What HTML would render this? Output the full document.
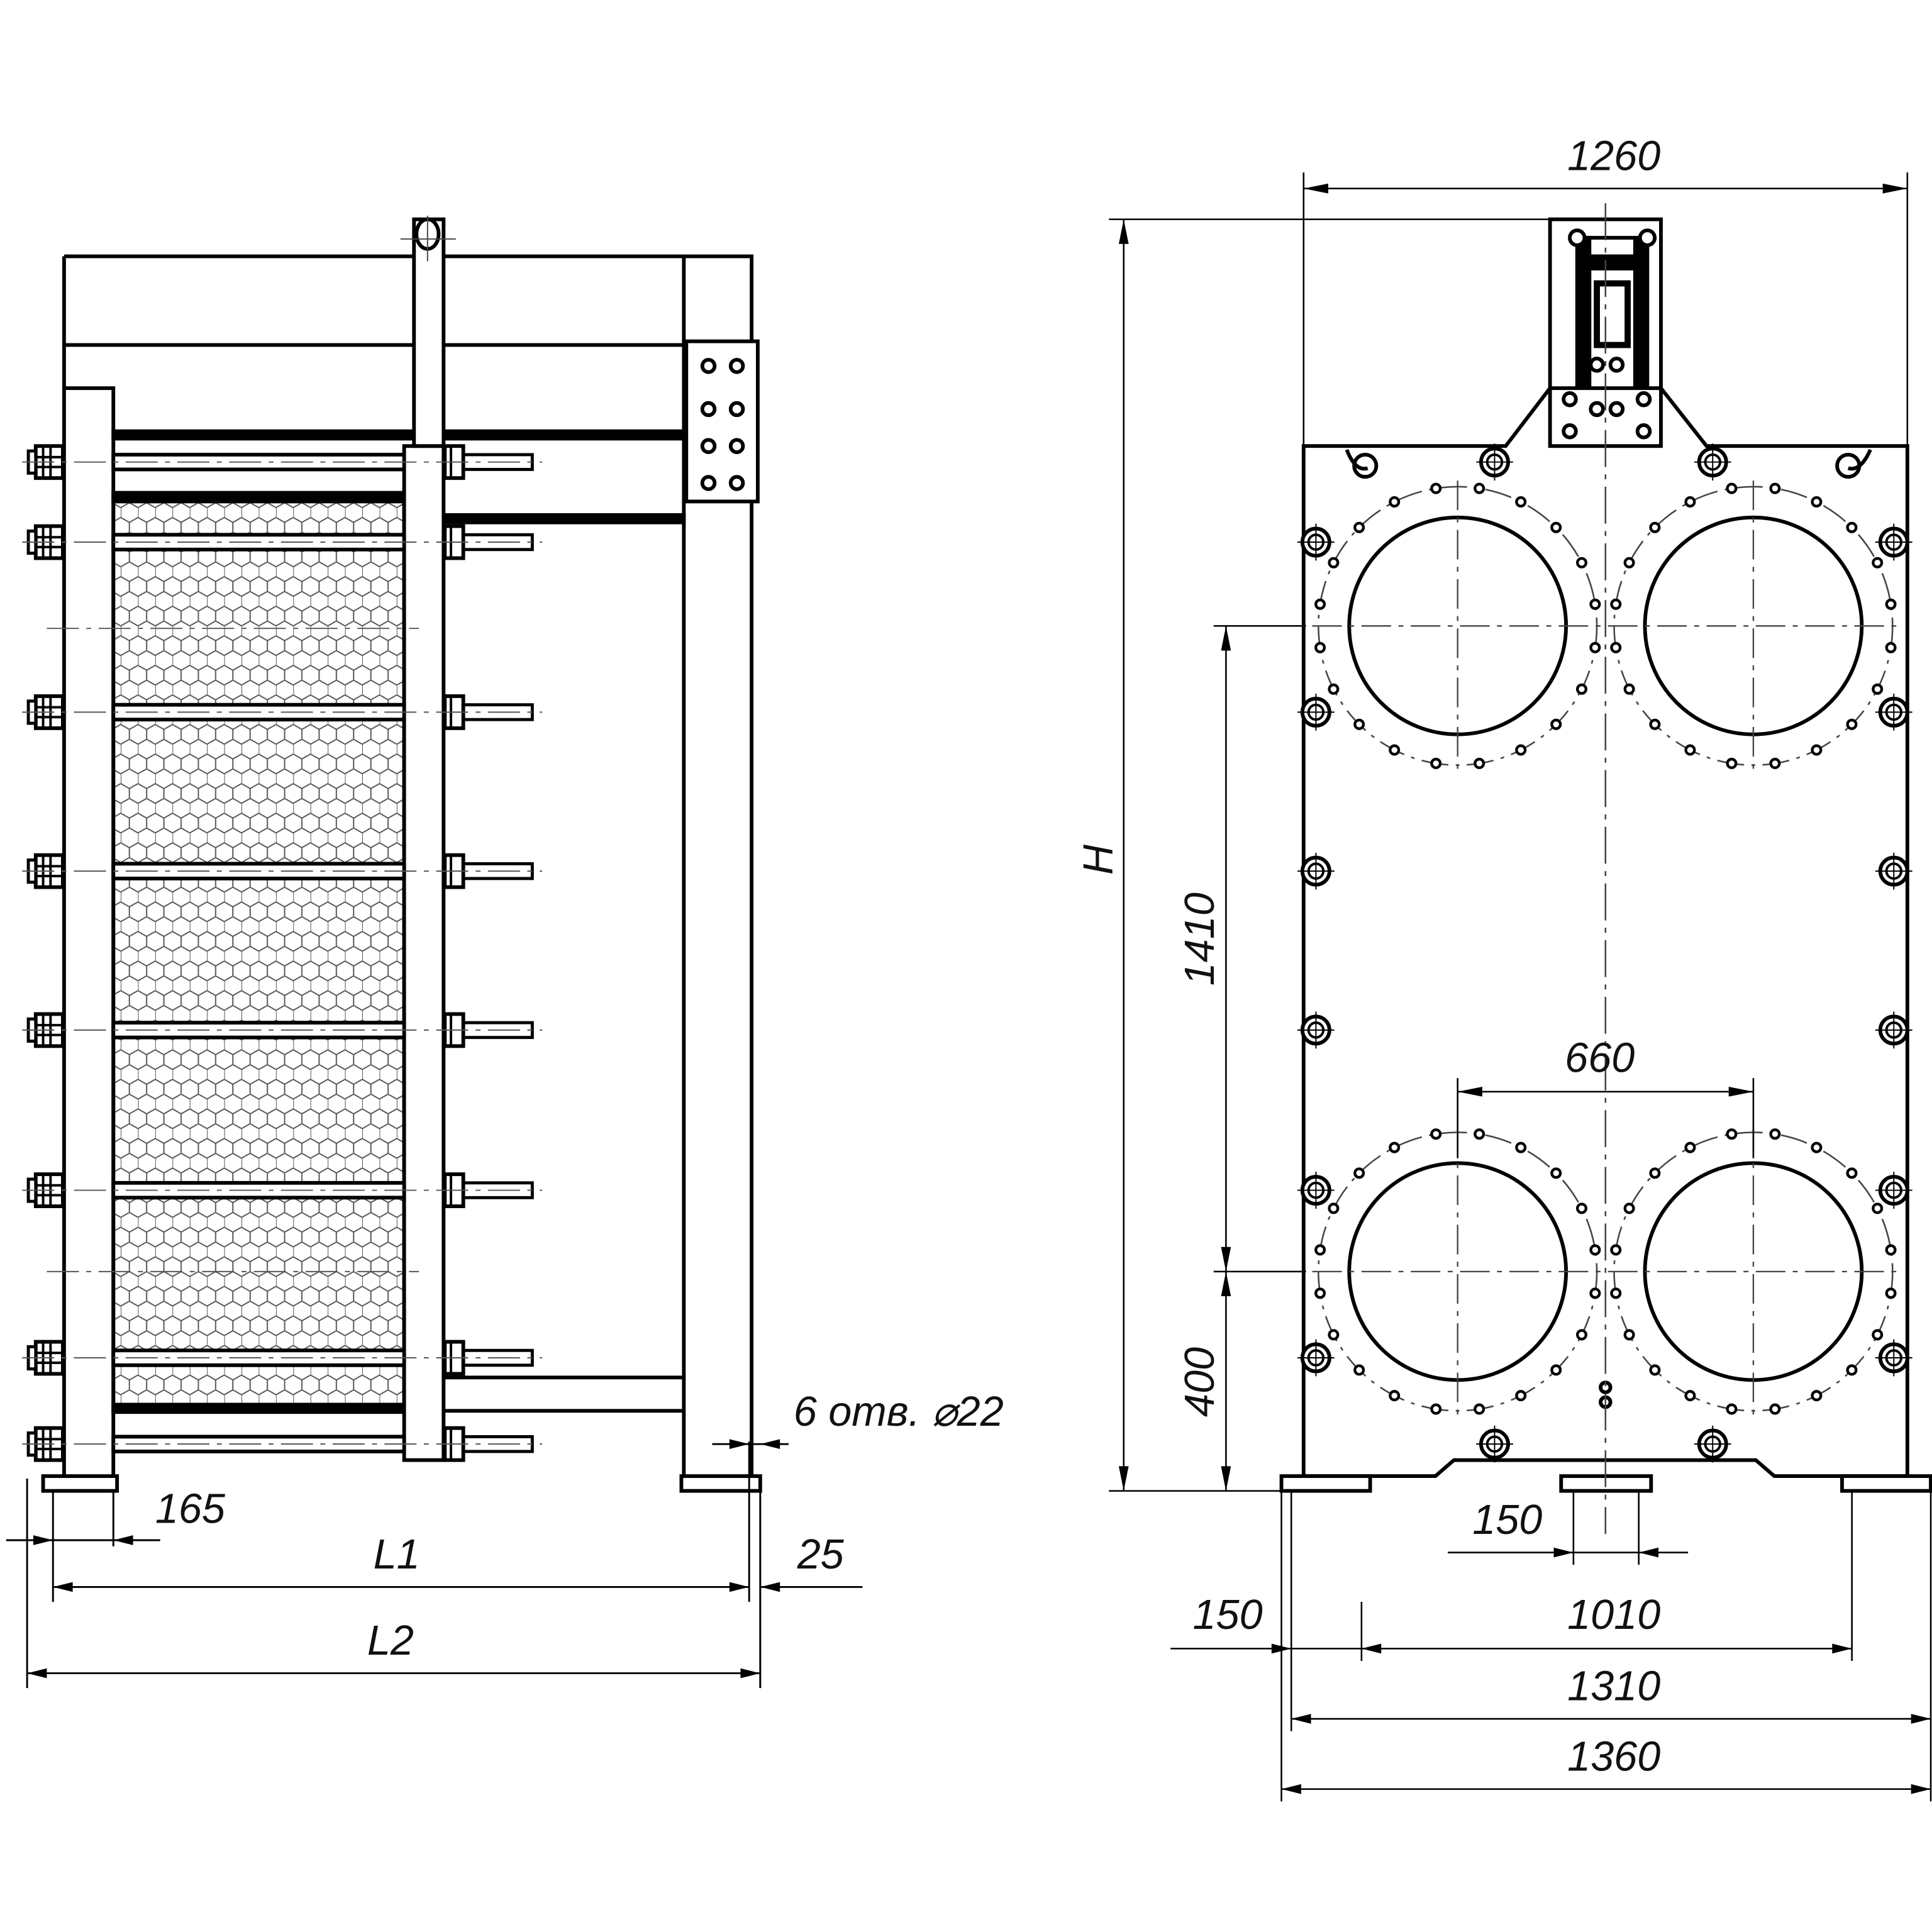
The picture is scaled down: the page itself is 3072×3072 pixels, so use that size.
<!DOCTYPE html>
<html><head><meta charset="utf-8"><style>
html,body{margin:0;padding:0;background:#fff}
svg{display:block}
text{font-family:"Liberation Sans",sans-serif;font-style:italic;font-size:34px;fill:#111}
</style></head><body>
<svg width="3072" height="3072" viewBox="0 0 1568 1568" xmlns="http://www.w3.org/2000/svg">
<defs>
<pattern id="hx" width="14" height="24" patternUnits="userSpaceOnUse">
<path d="M0 4L7 0L14 4M0 4V12L7 16L14 12M7 16V24" fill="none" stroke="#555" stroke-width="1"/>
</pattern>
<g id="fl">
<circle r="113" fill="none" stroke="#444" stroke-width="1.3" stroke-dasharray="22 6 3 6"/>
<g fill="#fff" stroke="#000" stroke-width="2.2">
<circle cx="17.6" cy="111.6" r="3.5"/><circle cx="-17.6" cy="111.6" r="3.5"/><circle cx="17.6" cy="-111.6" r="3.5"/><circle cx="-17.6" cy="-111.6" r="3.5"/>
<circle cx="51.3" cy="100.7" r="3.5"/><circle cx="-51.3" cy="100.7" r="3.5"/><circle cx="51.3" cy="-100.7" r="3.5"/><circle cx="-51.3" cy="-100.7" r="3.5"/>
<circle cx="79.9" cy="79.9" r="3.5"/><circle cx="-79.9" cy="79.9" r="3.5"/><circle cx="79.9" cy="-79.9" r="3.5"/><circle cx="-79.9" cy="-79.9" r="3.5"/>
<circle cx="100.7" cy="51.3" r="3.5"/><circle cx="-100.7" cy="51.3" r="3.5"/><circle cx="100.7" cy="-51.3" r="3.5"/><circle cx="-100.7" cy="-51.3" r="3.5"/>
<circle cx="111.6" cy="17.6" r="3.5"/><circle cx="-111.6" cy="17.6" r="3.5"/><circle cx="111.6" cy="-17.6" r="3.5"/><circle cx="-111.6" cy="-17.6" r="3.5"/>
</g>
<circle r="88" fill="none" stroke="#000" stroke-width="3"/>
<path d="M-118 0H118M0 -118V118" stroke="#444" stroke-width="1.2" stroke-dasharray="24 6 4 6"/>
</g>
<g id="bt"><circle r="11" fill="#fff" stroke="#000" stroke-width="3"/><circle r="6" fill="none" stroke="#000" stroke-width="2"/><path d="M-15 0H15M0 -15V15" stroke="#000" stroke-width="1"/></g>
<g id="rod">
<rect x="92" y="-6" width="236" height="12" fill="#fff" stroke="#000" stroke-width="3"/>
<rect x="360" y="-6" width="72" height="12" fill="#fff" stroke="#000" stroke-width="2.5"/>
<rect x="29" y="-13" width="22" height="26" fill="#fff" stroke="#000" stroke-width="3"/>
<path d="M35 -13V13M41 -13V13M29 -4H51M29 4H51" stroke="#000" stroke-width="2"/>
<rect x="23" y="-9" width="6" height="18" fill="#fff" stroke="#000" stroke-width="2.5"/>
<rect x="361" y="-13" width="15" height="26" fill="#fff" stroke="#000" stroke-width="3"/>
<path d="M366 -13V13" stroke="#000" stroke-width="2"/>
<path d="M18 0H440" stroke="#555" stroke-width="1" stroke-dasharray="26 6 4 6"/>
</g>
</defs>

<!-- LEFT VIEW -->
<g fill="none" stroke="#000" stroke-width="3">
<path d="M52 208H382M360 208H610V1200H555V208M52 208V1200M52 280H336M360 280H555"/>
<path d="M52 315H92V1200M92 352H336M360 352H555"/>
<rect x="92" y="350" width="244" height="6" fill="#000"/>
<rect x="360" y="350" width="195" height="6" fill="#000"/>
<rect x="360" y="418" width="195" height="6" fill="#000"/>
<path d="M360 1118H555M360 1145H555M92 1140H328M92 1145H328"/>
<rect x="92" y="400" width="236" height="745" fill="url(#hx)" stroke="#000" stroke-width="3"/>
<rect x="92" y="400" width="236" height="7" fill="#000"/>
<rect x="92" y="1140" width="236" height="6" fill="#000"/>
<rect x="328" y="362" width="32" height="823" fill="#fff"/>
<rect x="336" y="178" width="24" height="184" fill="#fff"/>
<ellipse cx="347" cy="190" rx="9" ry="12"/>
<path d="M52 1200H92M555 1200H610"/>
<rect x="35" y="1198" width="60" height="12" fill="#fff"/>
<rect x="553" y="1198" width="64" height="12" fill="#fff"/>
<rect x="557" y="277" width="58" height="130" fill="#fff"/>
</g>
<path d="M325 194H370M347 175V212" stroke="#444" stroke-width="1"/>
<g fill="#fff" stroke="#000" stroke-width="3">
<circle cx="575" cy="297" r="5"/><circle cx="598" cy="297" r="5"/>
<circle cx="575" cy="332" r="5"/><circle cx="598" cy="332" r="5"/>
<circle cx="575" cy="362" r="5"/><circle cx="598" cy="362" r="5"/>
<circle cx="575" cy="392" r="5"/><circle cx="598" cy="392" r="5"/>
</g>
<use href="#rod" y="375"/><use href="#rod" y="440"/><use href="#rod" y="578"/><use href="#rod" y="707"/>
<use href="#rod" y="836"/><use href="#rod" y="966"/><use href="#rod" y="1102"/><use href="#rod" y="1172"/>
<path d="M38 510H340M38 1032H340" stroke="#555" stroke-width="1" stroke-dasharray="26 6 4 6"/>

<!-- left dims -->
<g stroke="#000" stroke-width="1.5" fill="none">
<path d="M22 1200V1370M43 1210V1300M92 1210V1255M608 1170V1300M617 1210V1370"/>
<path d="M5 1250H130M43 1288H608M617 1288H700M22 1358H617M578 1172H640"/>
</g>
<g fill="#000">
<path d="M43 1250l-16-4v8zM92 1250l16-4v8z"/>
<path d="M43 1288l16-4v8zM608 1288l-16-4v8zM617 1288l16-4v8z"/>
<path d="M22 1358l16-4v8zM617 1358l-16-4v8z"/>
<path d="M608 1172l-16-4v8zM617 1172l16-4v8z"/>
</g>
<text x="126" y="1236">165</text>
<text x="303" y="1273">L1</text>
<text x="647" y="1273">25</text>
<text x="298" y="1343">L2</text>
<text x="644" y="1157">6 отв. ⌀22</text>

<!-- RIGHT VIEW -->
<g fill="none" stroke="#000" stroke-width="3">
<path d="M1058 1198V362H1222L1258 315M1348 315L1385 362H1548V1198H1440L1425 1185H1180L1165 1198H1058"/>
<rect x="1258" y="178" width="90" height="184" fill="#fff"/>
<path d="M1258 315H1348"/>
<rect x="1280" y="193" width="10" height="120" fill="#000"/>
<rect x="1327" y="193" width="10" height="120" fill="#000"/>
<rect x="1290" y="208" width="37" height="10" fill="#000"/>
<rect x="1296" y="230" width="25" height="50" stroke-width="5"/>
<path d="M1274 193H1342"/>
<path d="M1093 365Q1100 383 1110 380M1518 365Q1510 383 1500 380"/>
<circle cx="1108" cy="378" r="9"/><circle cx="1500" cy="378" r="9"/>
<rect x="1040" y="1198" width="72" height="12" fill="#fff"/>
<rect x="1267" y="1198" width="73" height="12" fill="#fff"/>
<rect x="1495" y="1198" width="72" height="12" fill="#fff"/>
</g>
<g fill="#fff" stroke="#000" stroke-width="3">
<circle cx="1280" cy="193" r="6"/><circle cx="1337" cy="193" r="6"/>
<circle cx="1296" cy="296" r="5"/><circle cx="1312" cy="296" r="5"/>
<circle cx="1274" cy="324" r="5"/><circle cx="1296" cy="332" r="5"/><circle cx="1312" cy="332" r="5"/><circle cx="1334" cy="324" r="5"/>
<circle cx="1274" cy="350" r="5"/><circle cx="1334" cy="350" r="5"/>
<circle cx="1303" cy="1126" r="4"/><circle cx="1303" cy="1138" r="4"/>
</g>
<path d="M1303 165V1245" stroke="#444" stroke-width="1.3" stroke-dasharray="30 6 4 6"/>
<use href="#fl" x="1183" y="508"/><use href="#fl" x="1423" y="508"/>
<use href="#fl" x="1183" y="1032"/><use href="#fl" x="1423" y="1032"/>
<use href="#bt" x="1213" y="375"/><use href="#bt" x="1390" y="375"/>
<use href="#bt" x="1213" y="1172"/><use href="#bt" x="1390" y="1172"/>
<use href="#bt" x="1068" y="440"/><use href="#bt" x="1537" y="440"/>
<use href="#bt" x="1068" y="578"/><use href="#bt" x="1537" y="578"/>
<use href="#bt" x="1068" y="707"/><use href="#bt" x="1537" y="707"/>
<use href="#bt" x="1068" y="836"/><use href="#bt" x="1537" y="836"/>
<use href="#bt" x="1068" y="966"/><use href="#bt" x="1537" y="966"/>
<use href="#bt" x="1068" y="1102"/><use href="#bt" x="1537" y="1102"/>

<!-- right dims -->
<g stroke="#000" stroke-width="1.3" fill="none">
<path d="M1058 140V362M1548 140V362M1058 153H1548"/>
<path d="M900 178H1258M900 1210H1040M912 178V1210"/>
<path d="M985 508H1060M985 1032H1060M995 508V1210"/>
<path d="M1183 875V940M1423 875V940M1183 886H1423"/>
<path d="M1277 1210V1270M1330 1210V1270M1175 1260H1370"/>
<path d="M1048 1210V1405M1105 1300V1348M1503 1210V1348M1567 1210V1462M1040 1210V1462"/>
<path d="M950 1338H1503M1048 1395H1567M1040 1452H1567"/>
</g>
<g fill="#000">
<path d="M1058 153l20-4v8zM1548 153l-20-4v8z"/>
<path d="M912 178l-4 20h8zM912 1210l-4-20h8z"/>
<path d="M995 508l-4 20h8zM995 1032l-4-20h8zM995 1032l-4 20h8zM995 1210l-4-20h8z"/>
<path d="M1183 886l20-4v8zM1423 886l-20-4v8z"/>
<path d="M1277 1260l-16-4v8zM1330 1260l16-4v8z"/>
<path d="M1048 1338l-16-4v8zM1105 1338l16-4v8zM1503 1338l-16-4v8z"/>
<path d="M1048 1395l16-4v8zM1567 1395l-16-4v8z"/>
<path d="M1040 1452l16-4v8zM1567 1452l-16-4v8z"/>
</g>
<text x="1272" y="138">1260</text>
<text x="1270" y="870">660</text>
<text x="1195" y="1245">150</text>
<text x="968" y="1322">150</text>
<text x="1272" y="1322">1010</text>
<text x="1272" y="1380">1310</text>
<text x="1272" y="1437">1360</text>
<text transform="translate(903 710) rotate(-90)">H</text>
<text transform="translate(985 800) rotate(-90)">1410</text>
<text transform="translate(985 1150) rotate(-90)">400</text>
</svg>
</body></html>
